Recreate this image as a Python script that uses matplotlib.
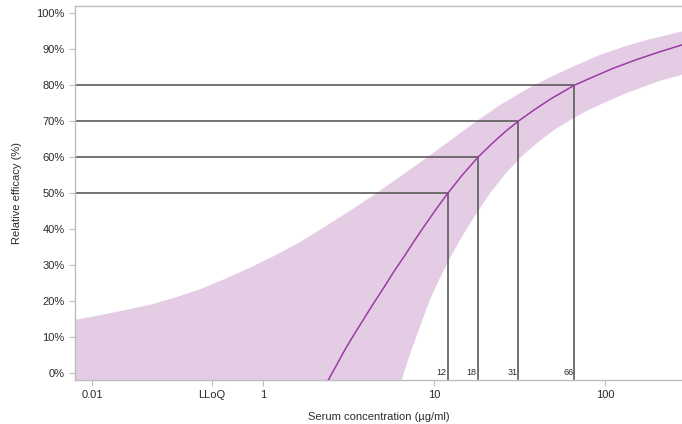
import matplotlib

matplotlib.use("Agg")
import matplotlib.pyplot as plt
from matplotlib.ticker import FixedLocator, FixedFormatter, NullLocator

plt.rcParams["font.family"] = ["Liberation Sans", "DejaVu Sans"]

# Mean concentration-efficacy curve
curve_conc = [2.40, 2.7, 3.0, 3.4, 3.84, 4.4, 5.04, 5.8, 6.7, 7.7, 8.9, 10.3, 12, 14.5, 18,
              22, 26, 31, 38, 48, 66, 85, 110, 150, 200, 281]
curve_eff = [-1.9, 2.5, 6.5, 10.8, 14.8, 19.3, 23.6, 28.2, 32.6, 37.0, 41.4, 45.7, 50, 54.9, 60,
             64.0, 67.1, 70, 73, 76.2, 80, 82.3, 84.6, 87.0, 89.0, 91.2]

# Confidence band edges
upper_conc = [0.0792, 0.111, 0.155, 0.2175, 0.3045, 0.4264, 0.597, 0.836, 1.171, 1.639, 2.295,
              3.214, 4.499, 6.301, 8.823, 12.36, 17.30, 24.23, 33.92, 47.50, 66.5, 93.1, 130.4,
              182.6, 281]
upper_eff = [14.8, 16.1, 17.5, 19.0, 21.0, 23.3, 26.2, 29.3, 32.7, 36.4, 40.7,
             45.1, 49.7, 54.6, 59.5, 64.6, 69.7, 74.5, 78.6, 82.2, 85.4, 88.4, 90.8,
             92.8, 94.9]
lower_conc = [0.0792, 5.5, 6.45, 7.21, 8.25, 9.44, 10.80, 12.36, 14.14, 16.91, 21.17, 26.51,
              33.02, 41.51, 51.48, 65.0, 81.4, 101.9, 126.9, 159.6, 208.9, 281]
lower_eff = [-100, -15, -1.9, 5.3, 12.9, 20.5, 26.5, 32.0, 37.0, 43.0, 50.0, 55.8,
             60.6, 64.6, 67.9, 70.8, 73.3, 75.4, 77.4, 79.2, 81.2, 82.9]

# Effective concentrations marked on the chart
ec_conc = [12, 18, 31, 66]
ec_level = [50, 60, 70, 80]
ec_labels = ["12", "18", "31", "66"]

x_tick_pos = [0.1, 0.5, 1, 10, 100]
x_tick_labels = ["0.01", "LLoQ", "1", "10", "100"]
y_ticks = [0, 10, 20, 30, 40, 50, 60, 70, 80, 90, 100]

BAND = "#E4CCE5"
LINE = "#9C3AA6"
REF = "#5A5A5A"
SPINE = "#BDBDBD"
TEXT = "#2B2B2B"

fig = plt.figure(figsize=(6.82, 4.24), dpi=100)
ax = fig.add_axes([75 / 682, 1 - 380 / 424, 607 / 682, 374 / 424])
ax.set_xscale("log")
xmin, xmax = 0.0792, 281
ymin, ymax = -1.9, 102
ax.set_xlim(xmin, xmax)
ax.set_ylim(ymin, ymax)

band_x = upper_conc + lower_conc[::-1]
band_y = upper_eff + lower_eff[::-1]
ax.fill(band_x, band_y, color=BAND, lw=0, zorder=1)
ax.plot(curve_conc, curve_eff, color=LINE, lw=1.1, zorder=3)

for c, lev, lab in zip(ec_conc, ec_level, ec_labels):
    ax.hlines(lev, xmin, c, color=REF, lw=1.2, zorder=2)
    ax.vlines(c, ymin, lev, color=REF, lw=1.2, zorder=2)
    ax.text(c * 0.985, ymin + 0.8, lab, ha="right", va="bottom", fontsize=6.5, color=TEXT, zorder=4)

ax.xaxis.set_major_locator(FixedLocator(x_tick_pos))
ax.xaxis.set_major_formatter(FixedFormatter(x_tick_labels))
ax.xaxis.set_minor_locator(NullLocator())
ax.set_yticks(y_ticks)
ax.set_yticklabels([f"{v}%" for v in y_ticks])

for side in ["left", "top", "bottom"]:
    ax.spines[side].set_color(SPINE)
    ax.spines[side].set_linewidth(1.0)
ax.spines["right"].set_visible(False)
ax.tick_params(axis="both", colors=SPINE, labelcolor=TEXT, labelsize=8, length=4, width=0.8)

ax.set_xlabel("Serum concentration (\u00b5g/ml)", fontsize=8, color=TEXT, labelpad=8)
ax.set_ylabel("Relative efficacy (%)", fontsize=8, color=TEXT, labelpad=10)

fig.savefig("out.png", dpi=100)
